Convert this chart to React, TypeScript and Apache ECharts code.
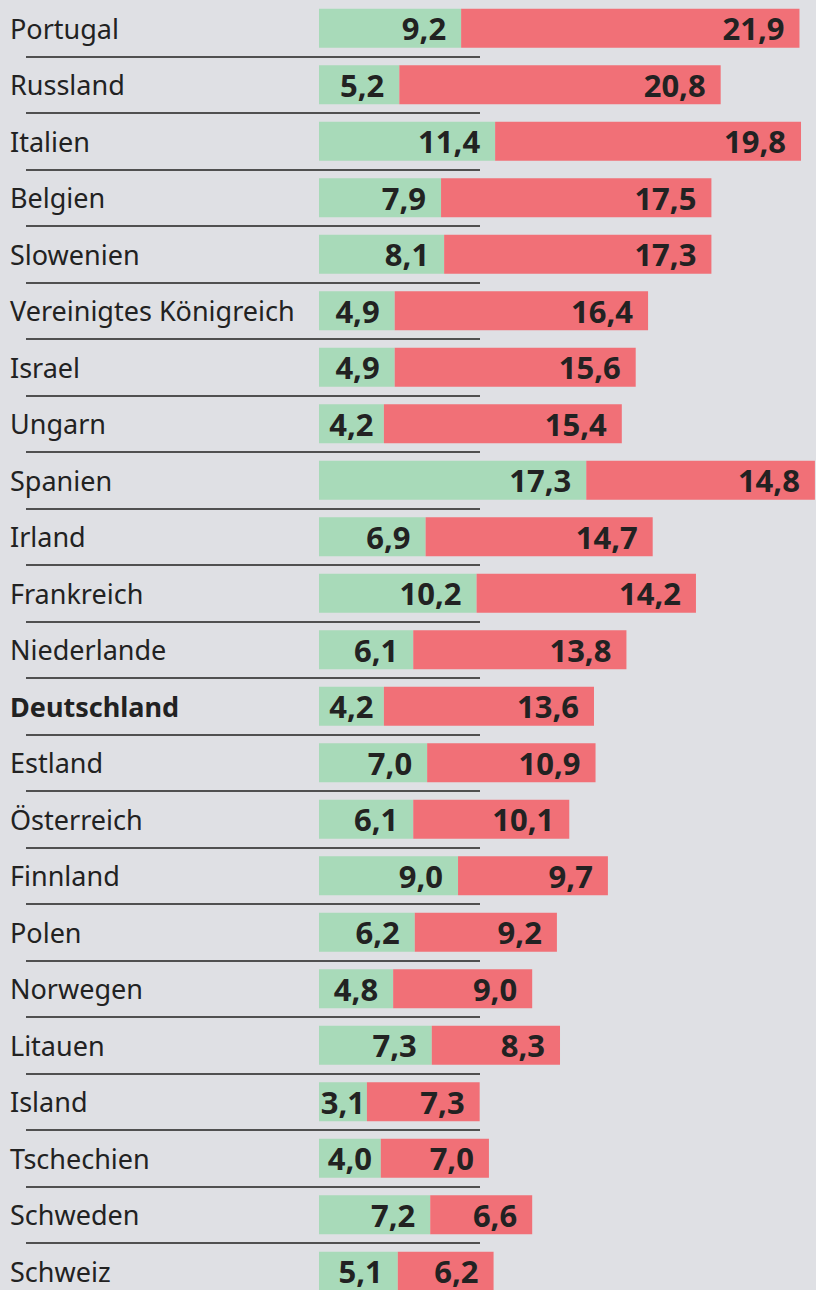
import React, { useEffect, useRef } from "react";
import * as echarts from "echarts";

const countries = [
  "Portugal", "Russland", "Italien", "Belgien", "Slowenien", "Vereinigtes Königreich",
  "Israel", "Ungarn", "Spanien", "Irland", "Frankreich", "Niederlande", "Deutschland",
  "Estland", "Österreich", "Finnland", "Polen", "Norwegen", "Litauen", "Island",
  "Tschechien", "Schweden", "Schweiz",
];
const greenValues = [9.2, 5.2, 11.4, 7.9, 8.1, 4.9, 4.9, 4.2, 17.3, 6.9, 10.2, 6.1, 4.2, 7.0, 6.1, 9.0, 6.2, 4.8, 7.3, 3.1, 4.0, 7.2, 5.1];
const redValues = [21.9, 20.8, 19.8, 17.5, 17.3, 16.4, 15.6, 15.4, 14.8, 14.7, 14.2, 13.8, 13.6, 10.9, 10.1, 9.7, 9.2, 9.0, 8.3, 7.3, 7.0, 6.6, 6.2];
const boldCountry = "Deutschland";

const FONT = "Noto Sans";
const fmt = (v: number) => v.toFixed(1).replace(".", ",");

export default function App() {
  const ref = useRef<HTMLDivElement>(null);
  useEffect(() => {
    if (!ref.current) return;
    const chart = echarts.init(ref.current, undefined, { renderer: "svg" });
    const gridTop = 0;
    const gridHeight = 1299.5;
    const valueLabel = {
      show: true,
      position: "insideRight",
      distance: 15,
      fontFamily: FONT,
      fontWeight: "bold",
      fontSize: 31,
      color: "#222",
      formatter: (p: any) => fmt(p.value),
    };
    chart.setOption({
      animation: false,
      backgroundColor: "#dfe0e4",
      grid: [
        { left: 319, right: 0, top: gridTop, height: gridHeight },
        { left: 319, width: 161, top: gridTop, height: gridHeight },
      ],
      xAxis: [
        { type: "value", gridIndex: 0, min: 0, max: 32.17, show: false },
        { type: "value", gridIndex: 1, min: 0, max: 1, show: false },
      ],
      yAxis: [
        {
          type: "category",
          gridIndex: 0,
          data: countries,
          inverse: true,
          offset: 16,
          axisLine: { show: false },
          axisTick: {
            show: true,
            length: 293,
            interval: (i: number) => i > 0,
            lineStyle: { color: "#505050", width: 2 },
          },
          splitLine: { show: false },
          axisLabel: {
            align: "left",
            margin: 293,
            fontFamily: FONT,
            fontSize: 27,
            color: "#222",
            formatter: (v: string) => (v === boldCountry ? `{b|${v}}` : `{n|${v}}`),
            rich: {
              n: { fontFamily: FONT, fontSize: 27, color: "#222" },
              b: { fontFamily: FONT, fontSize: 27, fontWeight: "bold", color: "#222" },
            },
          },
        },
        {
          type: "category",
          gridIndex: 1,
          data: countries,
          inverse: true,
          axisLine: { show: false },
          axisTick: { show: false },
          axisLabel: { show: false },
          splitLine: {
            show: true,
            interval: (i: number) => i > 0,
            lineStyle: { color: "#505050", width: 2 },
          },
        },
      ],
      series: [
        {
          type: "bar",
          stack: "t",
          xAxisIndex: 0,
          yAxisIndex: 0,
          barWidth: 39,
          itemStyle: { color: "#a8dab9" },
          label: valueLabel,
          data: greenValues.map((v) =>
            v < 4.5 ? { value: v, label: { position: "inside" } } : { value: v }
          ),
          z: 3,
        },
        {
          type: "bar",
          stack: "t",
          xAxisIndex: 0,
          yAxisIndex: 0,
          barWidth: 39,
          itemStyle: { color: "#f17077" },
          label: valueLabel,
          data: redValues,
          z: 3,
        },
      ],
    });
    return () => chart.dispose();
  }, []);
  return (
    <div
      style={{ position: "absolute", left: 0, top: 0, width: 816, height: 1290, overflow: "hidden" }}
    >
      <div ref={ref} style={{ width: 816, height: 1310 }} />
    </div>
  );
}
